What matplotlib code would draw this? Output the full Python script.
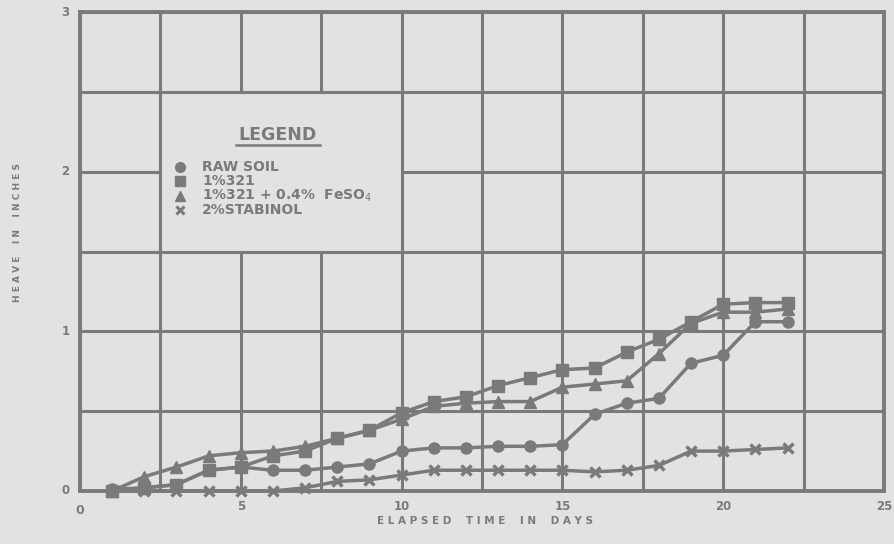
import numpy as np
import matplotlib
matplotlib.use("Agg")
import matplotlib.pyplot as plt
from matplotlib.patches import Rectangle

days = np.arange(1, 23)
raw_soil = [0.01, 0.02, 0.04, 0.13, 0.15, 0.13, 0.13, 0.15, 0.17, 0.25, 0.27,
            0.27, 0.28, 0.28, 0.29, 0.48, 0.55, 0.58, 0.80, 0.85, 1.06, 1.06]
p321 = [0.00, 0.02, 0.04, 0.13, 0.15, 0.22, 0.25, 0.33, 0.38, 0.49, 0.56,
        0.59, 0.66, 0.71, 0.76, 0.77, 0.87, 0.95, 1.06, 1.17, 1.18, 1.18]
p321_feso4 = [0.00, 0.09, 0.15, 0.22, 0.24, 0.25, 0.28, 0.33, 0.38, 0.45, 0.53,
              0.55, 0.56, 0.56, 0.65, 0.67, 0.69, 0.86, 1.05, 1.12, 1.12, 1.14]
stabinol = [0.00, 0.00, 0.00, 0.00, 0.00, 0.00, 0.02, 0.06, 0.07, 0.10, 0.13,
            0.13, 0.13, 0.13, 0.13, 0.12, 0.13, 0.16, 0.25, 0.25, 0.26, 0.27]

series = [("RAW SOIL", raw_soil, "o"),
          ("1%321", p321, "s"),
          ("1%321 + 0.4%  FeSO$_4$", p321_feso4, "^"),
          ("2%STABINOL", stabinol, "x")]

bg = "#e2e2e0"
ink = "#7a7a7a"

fig = plt.figure(figsize=(8.95, 5.44), dpi=100, facecolor=bg)
ax = fig.add_axes([80 / 895, 53 / 544, 804 / 895, 479 / 544])
ax.set_facecolor(bg)

ax.set_xlim(0, 25)
ax.set_ylim(0, 3)
ax.set_xticks(np.arange(0, 25.1, 2.5))
ax.set_yticks(np.arange(0, 3.01, 0.5))
ax.grid(True, color=ink, linewidth=2.2)
ax.set_axisbelow(True)
ax.tick_params(length=0, labelleft=False, labelbottom=False)
for s in ax.spines.values():
    s.set_color(ink)
    s.set_linewidth(2.8)

fnt = dict(color=ink, fontweight="bold", family="DejaVu Sans")
for v in [5, 10, 15, 20, 25]:
    ax.text(v, -0.1, str(v), ha="center", va="center", fontsize=8.5, **fnt)
ax.text(0, -0.12, "0", ha="center", va="center", fontsize=9, **fnt)
for v in [0, 1, 2, 3]:
    ax.text(-0.45, v, str(v), ha="center", va="center", fontsize=8.5, **fnt)
fig.text(485 / 895, 1 - 521 / 544, "E L A P S E D    T I M E    I N    D A Y S",
         ha="center", va="center", fontsize=7.5, **fnt)
fig.text(18 / 895, 1 - 232 / 544, "H E A V E    I N    I N C H E S", ha="center",
         va="center", rotation=90, fontsize=6.5, **fnt)

for name, vals, m in series:
    ax.plot(days, vals, color=ink, linewidth=2.5, marker=m,
            markersize=8 if m != "x" else 7, markeredgewidth=2.5 if m == "x" else 1,
            markerfacecolor=ink, markeredgecolor=ink, zorder=3, clip_on=False)

# legend panel sits inside one block of grid cells
ax.add_patch(Rectangle((2.5, 1.5), 7.5, 1.0, facecolor=bg, edgecolor=ink,
                       linewidth=2.2, zorder=1))
ax.text(6.15, 2.23, "LEGEND", ha="center", va="center", fontsize=12.5, **fnt)
ax.plot([4.85, 7.45], [2.17, 2.17], color=ink, linewidth=1.8, zorder=2)
rows = [2.03, 1.94, 1.85, 1.76]
for (name, vals, m), yy in zip(series, rows):
    ax.plot(3.1, yy, marker=m, color=ink, markersize=7 if m != "x" else 6,
            markeredgewidth=2.2 if m == "x" else 1, linestyle="none", zorder=2)
    ax.text(3.8, yy, name, ha="left", va="center", fontsize=10, **fnt)

fig.savefig("out.png", dpi=100, facecolor=bg)
